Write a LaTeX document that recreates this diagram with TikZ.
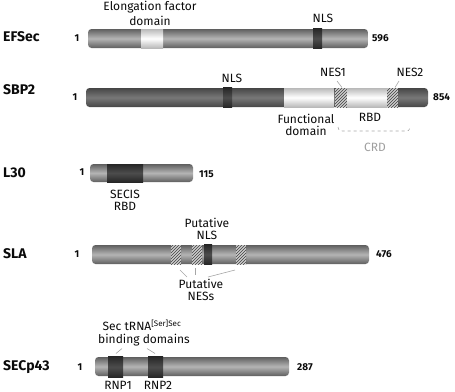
\documentclass[tikz,border=0pt]{standalone}
\usepackage{fontspec}
\setmainfont{Fira Sans}
\usetikzlibrary{patterns}
\definecolor{baredge}{RGB}{95,95,95}
\definecolor{barmid}{RGB}{180,180,180}
\definecolor{darkedge}{RGB}{70,70,70}
\definecolor{darkmid}{RGB}{120,120,120}
\definecolor{txt}{RGB}{10,10,10}
\tikzset{
  bar/.style={rounded corners=3.5pt, inner sep=0pt, minimum height=19pt, top color=baredge, bottom color=baredge, middle color=barmid},
  darkbar/.style={bar, top color=darkedge, bottom color=darkedge, middle color=darkmid},
  lightdom/.style={inner sep=0pt, minimum height=19pt, top color=gray!55, bottom color=gray!55, middle color=white},
  darkdom/.style={inner sep=0pt, minimum height=20pt, top color=black!85, bottom color=black!85, middle color=black!70},
  hatchdom/.style={inner sep=0pt, minimum height=19pt, fill=gray!40, postaction={pattern=north east lines, pattern color=black!75}},
  prot/.style={anchor=west, font=\fontsize{14}{16}\selectfont\bfseries, text=txt, inner sep=0pt},
  num/.style={font=\fontsize{10}{11}\selectfont\bfseries, text=txt, inner sep=0pt},
  lab/.style={font=\fontsize{12}{13}\selectfont, text=txt, inner sep=0pt, align=center},
  lead/.style={gray!70, line width=0.6pt},
}
\begin{document}
\begin{tikzpicture}[x=1pt, y=-1pt]
\useasboundingbox (0,0) rectangle (455,391);
% ---------- EFSec
\node[prot] (nEF) at (3,37) {EFSec};
\node[num] (ef1) at (77,38) {1};
\node[bar, minimum width=280pt] (ef) at (228,38.5) {};
\node[lightdom, minimum width=22pt] (efdom) at (152,38.5) {};
\node[darkdom, minimum width=9pt] (efnls) at (317.5,38.5) {};
\node[num, anchor=west] (ef596) at (372,38) {596};
\node[lab] (efl1) at (150,7) {Elongation factor};
\node[lab] (efl2) at (150,20.5) {domain};
\node[lab] (efnlsl) at (323,18) {NLS};
% ---------- SBP2
\node[prot] (nSB) at (3,90) {SBP2};
\node[num] (sb1) at (75,97) {1};
\node[darkbar, minimum width=342pt] (sb) at (257,97.5) {};
\node[darkdom, minimum width=9pt] (sbnls) at (227.5,97.5) {};
\node[lightdom, minimum width=50pt] (sbfun) at (309,97.5) {};
\node[hatchdom, minimum width=12pt] (nes1) at (341,97.5) {};
\node[lightdom, minimum width=40pt] (sbrbd) at (367,97.5) {};
\node[hatchdom, minimum width=11pt] (nes2) at (392.5,97.5) {};
\node[num, anchor=west] (sb854) at (433,97) {854};
\node[lab] (sbnlsl) at (232,78) {NLS};
\node[lab] (nes1l) at (333,72) {NES1};
\node[lab] (nes2l) at (410,72) {NES2};
\coordinate (c1a) at (337,81);
\coordinate (c1b) at (342,87.5);
\coordinate (c2a) at (399,81);
\coordinate (c2b) at (395,87.5);
\draw[lead] (c1a) -- (c1b);
\draw[lead] (c2a) -- (c2b);
\node[lab] (funl) at (306,124.5) {Functional\\[-1pt]domain};
\node[lab] (rbdl) at (370,117) {RBD};
\coordinate (crdA) at (338,127);
\coordinate (crdB) at (410,127);
\draw[gray!70, dashed, line width=0.6pt] (crdA) .. controls (339,131) .. (345,131) -- (403,131) .. controls (409,131) .. (crdB);
\node[lab, text=gray!75] (crdl) at (375,147) {CRD};
% ---------- L30
\node[prot] (nL) at (3,173) {L30};
\node[num] (l1) at (82,172) {1};
\node[bar, minimum width=103pt, minimum height=18pt] (l30) at (141.5,173) {};
\node[darkdom, minimum width=36pt, minimum height=18pt] (lsec) at (125,173) {};
\node[num, anchor=west] (l115) at (199,174) {115};
\node[lab] (secisl) at (125,200) {SECIS\\[-1pt]RBD};
% ---------- SLA
\node[prot] (nSLA) at (3,254) {SLA};
\node[num] (sla1) at (77,254) {1};
\node[bar, minimum width=277pt] (sla) at (230.5,254.5) {};
\node[hatchdom, minimum width=10pt] (h1) at (176,254.5) {};
\node[hatchdom, minimum width=10pt] (h2) at (197,254.5) {};
\node[darkdom, minimum width=8pt] (slanls) at (208,254.5) {};
\node[hatchdom, minimum width=10pt] (h3) at (241,254.5) {};
\node[num, anchor=west] (sla476) at (376,254) {476};
\node[lab] (pnls) at (207,229) {Putative\\[-1pt]NLS};
\node[lab] (pnes) at (201,289.5) {Putative\\[-1pt]NESs};
\coordinate (s1a) at (180,270);
\coordinate (s1b) at (187,277);
\coordinate (s2a) at (195,268);
\coordinate (s2b) at (195,275);
\coordinate (s3a) at (235,270);
\coordinate (s3b) at (208,277);
\draw[lead] (s1a) -- (s1b);
\draw[lead] (s2a) -- (s2b);
\draw[lead] (s3a) -- (s3b);
% ---------- SECp43
\node[prot] (nSEC) at (3,367) {SECp43};
\node[num] (sec1) at (80,367) {1};
\node[bar, minimum width=194pt] (sec) at (192,366.5) {};
\node[darkdom, minimum width=15pt, minimum height=21pt] (rnp1) at (115.5,367) {};
\node[darkdom, minimum width=15pt, minimum height=21pt] (rnp2) at (155.5,367) {};
\node[num, anchor=west] (sec287) at (297,367) {287};
\node[lab] (trna) at (142,325) {Sec tRNA\textsuperscript{[Ser]Sec}};
\node[lab] (bind) at (144,340) {binding domains};
\coordinate (t1a) at (122,348.5);
\coordinate (t1b) at (116,353.5);
\coordinate (t2a) at (147,348.5);
\coordinate (t2b) at (155,353.5);
\draw[lead] (t1a) -- (t1b);
\draw[lead] (t2a) -- (t2b);
\node[lab] (rnp1l) at (118,385) {RNP1};
\node[lab] (rnp2l) at (158,385) {RNP2};
\end{tikzpicture}
\end{document}
